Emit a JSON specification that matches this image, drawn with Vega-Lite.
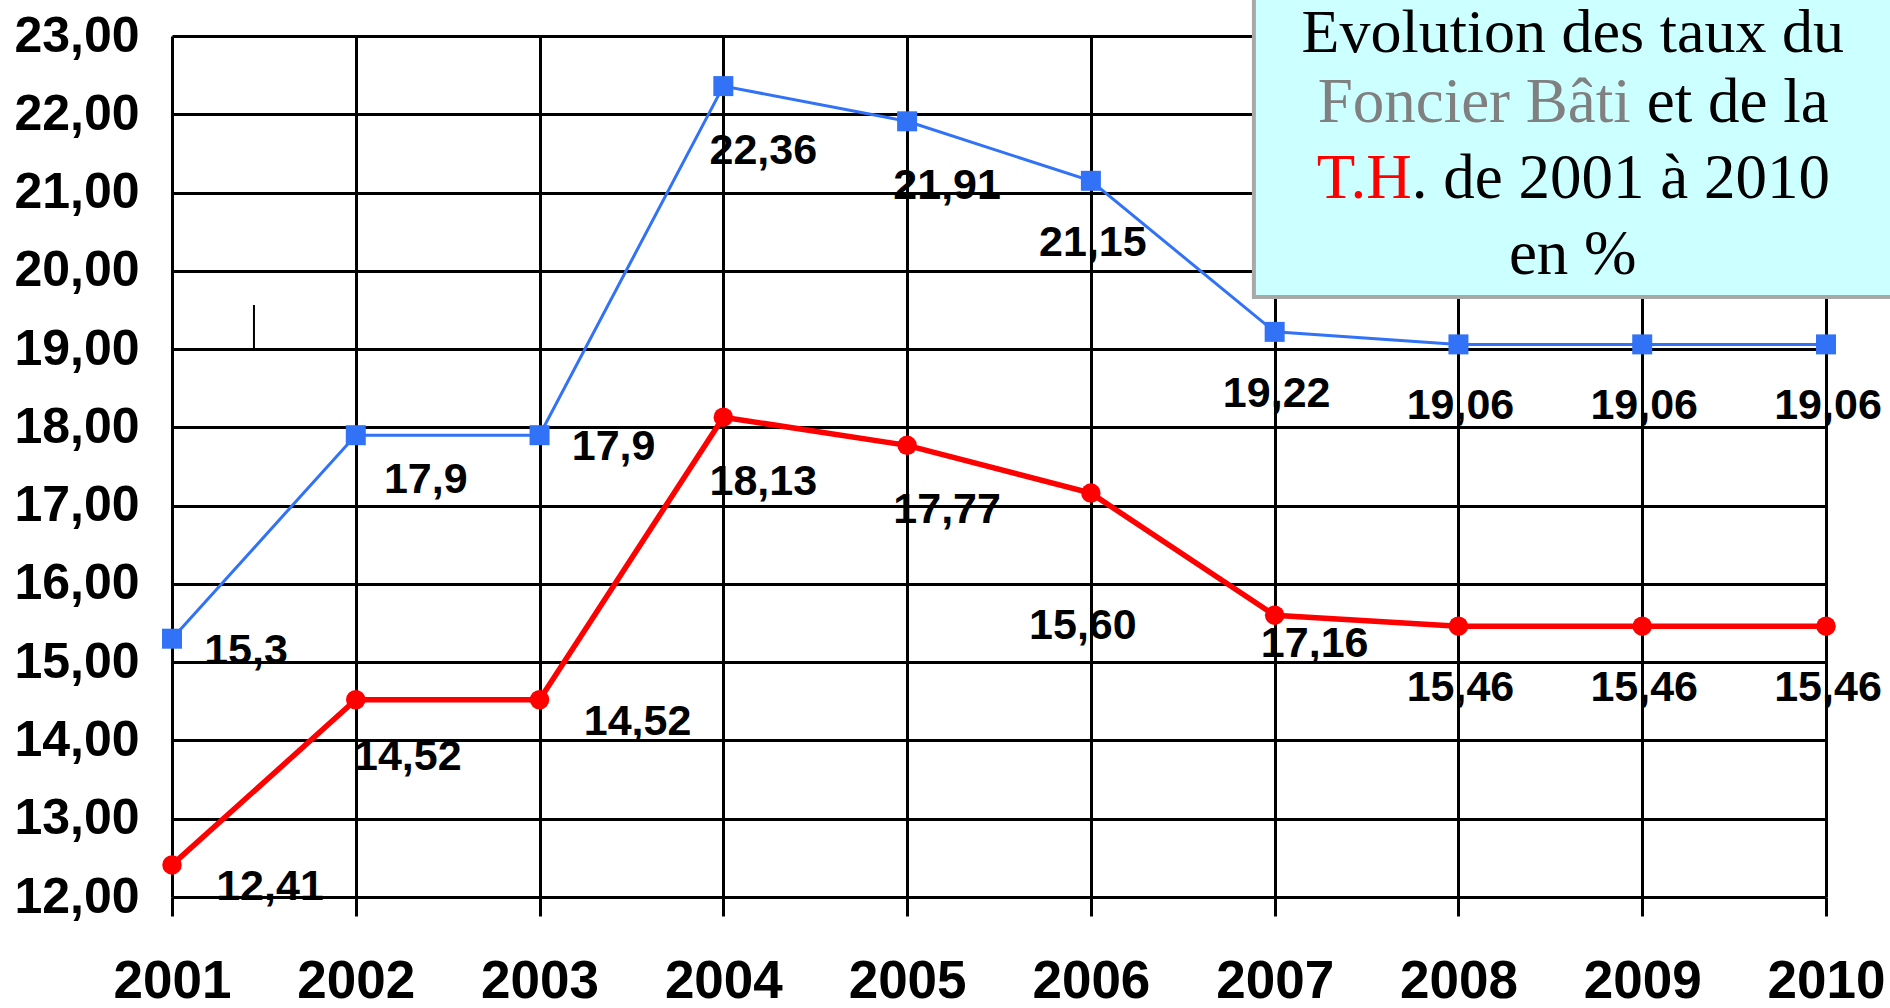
{
  "$schema": "https://vega.github.io/schema/vega-lite/v6.json",
  "width": 1654,
  "height": 861,
  "autosize": "none",
  "padding": {"left": 172, "top": 36, "right": 64, "bottom": 111},
  "background": "white",
  "config": {"view": {"stroke": null}},
  "data": {
    "values": [
      {"year": 2001, "serie": "Foncier Bâti", "taux": 15.3, "label": "15,3"},
      {"year": 2002, "serie": "Foncier Bâti", "taux": 17.9, "label": "17,9"},
      {"year": 2003, "serie": "Foncier Bâti", "taux": 17.9, "label": "17,9"},
      {"year": 2004, "serie": "Foncier Bâti", "taux": 22.36, "label": "22,36"},
      {"year": 2005, "serie": "Foncier Bâti", "taux": 21.91, "label": "21,91"},
      {"year": 2006, "serie": "Foncier Bâti", "taux": 21.15, "label": "21,15"},
      {"year": 2007, "serie": "Foncier Bâti", "taux": 19.22, "label": "19,22"},
      {"year": 2008, "serie": "Foncier Bâti", "taux": 19.06, "label": "19,06"},
      {"year": 2009, "serie": "Foncier Bâti", "taux": 19.06, "label": "19,06"},
      {"year": 2010, "serie": "Foncier Bâti", "taux": 19.06, "label": "19,06"},
      {"year": 2001, "serie": "T.H.", "taux": 12.41, "label": "12,41"},
      {"year": 2002, "serie": "T.H.", "taux": 14.52, "label": "14,52"},
      {"year": 2003, "serie": "T.H.", "taux": 14.52, "label": "14,52"},
      {"year": 2004, "serie": "T.H.", "taux": 18.13, "label": "18,13"},
      {"year": 2005, "serie": "T.H.", "taux": 17.77, "label": "17,77"},
      {"year": 2006, "serie": "T.H.", "taux": 17.16, "label": "15,60"},
      {"year": 2007, "serie": "T.H.", "taux": 15.6, "label": "17,16"},
      {"year": 2008, "serie": "T.H.", "taux": 15.46, "label": "15,46"},
      {"year": 2009, "serie": "T.H.", "taux": 15.46, "label": "15,46"},
      {"year": 2010, "serie": "T.H.", "taux": 15.46, "label": "15,46"}
    ]
  },
  "layer": [
    {
      "transform": [{"filter": "datum.serie === 'Foncier Bâti'"}],
      "mark": {"type": "line", "color": "#3172F6", "strokeWidth": 3},
      "encoding": {
        "x": {"field": "year", "type": "quantitative", "scale": {"domain": [2001, 2010], "nice": false, "zero": false},
          "axis": {"values": [2001, 2002, 2003, 2004, 2005, 2006, 2007, 2008, 2009, 2010], "format": "d", "title": null,
            "grid": true, "gridColor": "black", "gridWidth": 3, "gridOpacity": 1, "domain": false,
            "ticks": true, "tickColor": "black", "tickWidth": 3, "tickSize": 19,
            "labelFont": "Liberation Sans", "labelFontSize": 53, "labelFontWeight": "bold", "labelColor": "black",
            "labelPadding": 39, "labelFlush": false, "labelOverlap": false}},
        "y": {"field": "taux", "type": "quantitative", "scale": {"domain": [12, 23], "nice": false, "zero": false},
          "axis": {"values": [12, 13, 14, 15, 16, 17, 18, 19, 20, 21, 22, 23], "labelExpr": "replace(format(datum.value, '.2f'), '.', ',')", "title": null,
            "grid": true, "gridColor": "black", "gridWidth": 3, "gridOpacity": 1, "domain": false,
            "ticks": false, "labelPadding": 33,
            "labelFont": "Liberation Sans", "labelFontSize": 50, "labelFontWeight": "bold", "labelColor": "black",
            "labelFlush": false, "labelOverlap": false}}
      }
    },
    {
      "transform": [{"filter": "datum.serie === 'T.H.'"}],
      "mark": {"type": "line", "color": "#FF0000", "strokeWidth": 5.5},
      "encoding": {"x": {"field": "year", "type": "quantitative"}, "y": {"field": "taux", "type": "quantitative"}}
    },
    {
      "transform": [{"filter": "datum.serie === 'Foncier Bâti'"}],
      "mark": {"type": "point", "shape": "square", "filled": true, "opacity": 1, "color": "#3172F6", "size": 400},
      "encoding": {"x": {"field": "year", "type": "quantitative"}, "y": {"field": "taux", "type": "quantitative"}}
    },
    {
      "transform": [{"filter": "datum.serie === 'T.H.'"}],
      "mark": {"type": "point", "shape": "circle", "filled": true, "opacity": 1, "color": "#FF0000", "size": 380},
      "encoding": {"x": {"field": "year", "type": "quantitative"}, "y": {"field": "taux", "type": "quantitative"}}
    },
    {
      "transform": [{"filter": "datum.serie === 'Foncier Bâti' && (datum.year === 2001 || datum.year === 2003)"}],
      "mark": {"type": "text", "font": "Liberation Sans", "fontWeight": "bold", "fontSize": 43, "color": "black", "align": "center", "baseline": "middle", "dx": 74, "dy": 12},
      "encoding": {"x": {"field": "year", "type": "quantitative"}, "y": {"field": "taux", "type": "quantitative"}, "text": {"field": "label"}}
    },
    {
      "transform": [{"filter": "datum.serie === 'T.H.' && (datum.year === 2001 || datum.year === 2003)"}],
      "mark": {"type": "text", "font": "Liberation Sans", "fontWeight": "bold", "fontSize": 43, "color": "black", "align": "center", "baseline": "middle", "dx": 98, "dy": 22},
      "encoding": {"x": {"field": "year", "type": "quantitative"}, "y": {"field": "taux", "type": "quantitative"}, "text": {"field": "label"}}
    },
    {
      "transform": [{"filter": "datum.serie === 'Foncier Bâti' && datum.year === 2002"}],
      "mark": {"type": "text", "font": "Liberation Sans", "fontWeight": "bold", "fontSize": 43, "color": "black", "align": "center", "baseline": "middle", "dx": 70, "dy": 45},
      "encoding": {"x": {"field": "year", "type": "quantitative"}, "y": {"field": "taux", "type": "quantitative"}, "text": {"field": "label"}}
    },
    {
      "transform": [{"filter": "datum.serie === 'T.H.' && datum.year === 2002"}],
      "mark": {"type": "text", "font": "Liberation Sans", "fontWeight": "bold", "fontSize": 43, "color": "black", "align": "center", "baseline": "middle", "dx": 52, "dy": 57},
      "encoding": {"x": {"field": "year", "type": "quantitative"}, "y": {"field": "taux", "type": "quantitative"}, "text": {"field": "label"}}
    },
    {
      "transform": [{"filter": "datum.year === 2004 || datum.year === 2005"}],
      "mark": {"type": "text", "font": "Liberation Sans", "fontWeight": "bold", "fontSize": 43, "color": "black", "align": "center", "baseline": "middle", "dx": 40, "dy": 65},
      "encoding": {"x": {"field": "year", "type": "quantitative"}, "y": {"field": "taux", "type": "quantitative"}, "text": {"field": "label"}}
    },
    {
      "transform": [{"filter": "(datum.serie === 'Foncier Bâti' && datum.year >= 2006) || (datum.serie === 'T.H.' && datum.year >= 2008)"}],
      "mark": {"type": "text", "font": "Liberation Sans", "fontWeight": "bold", "fontSize": 43, "color": "black", "align": "center", "baseline": "middle", "dx": 2, "dy": 62},
      "encoding": {"x": {"field": "year", "type": "quantitative"}, "y": {"field": "taux", "type": "quantitative"}, "text": {"field": "label"}}
    },
    {
      "transform": [{"filter": "datum.serie === 'T.H.' && datum.year === 2006"}],
      "mark": {"type": "text", "font": "Liberation Sans", "fontWeight": "bold", "fontSize": 43, "color": "black", "align": "center", "baseline": "middle", "dx": -8, "dy": 133},
      "encoding": {"x": {"field": "year", "type": "quantitative"}, "y": {"field": "taux", "type": "quantitative"}, "text": {"field": "label"}}
    },
    {
      "transform": [{"filter": "datum.serie === 'T.H.' && datum.year === 2007"}],
      "mark": {"type": "text", "font": "Liberation Sans", "fontWeight": "bold", "fontSize": 43, "color": "black", "align": "center", "baseline": "middle", "dx": 40, "dy": 29},
      "encoding": {"x": {"field": "year", "type": "quantitative"}, "y": {"field": "taux", "type": "quantitative"}, "text": {"field": "label"}}
    },
    {
      "transform": [{"filter": "datum.serie === 'T.H.' && datum.year === 2001"}],
      "mark": {"type": "rule", "color": "black", "strokeWidth": 2},
      "encoding": {
        "x": {"datum": 2001.446, "type": "quantitative"},
        "y": {"datum": 19.0, "type": "quantitative"},
        "y2": {"datum": 19.563}
      }
    },
    {
      "transform": [{"filter": "datum.serie === 'T.H.' && datum.year === 2001"}],
      "mark": {"type": "rect", "fill": "#CCFFFF", "stroke": "#A8A8A8", "strokeWidth": 4},
      "encoding": {
        "x": {"datum": 2006.887, "type": "quantitative"},
        "x2": {"datum": 2010.6},
        "y": {"datum": 23.8, "type": "quantitative"},
        "y2": {"datum": 19.665}
      }
    },
    {
      "transform": [{"filter": "datum.serie === 'T.H.' && datum.year === 2001"}],
      "mark": {"type": "text", "text": "Evolution des taux du", "font": "Liberation Serif", "fontSize": 62, "color": "black", "align": "center", "baseline": "alphabetic"},
      "encoding": {"x": {"datum": 2008.622, "type": "quantitative"}, "y": {"datum": 22.79, "type": "quantitative"}}
    },
    {
      "transform": [{"filter": "datum.serie === 'T.H.' && datum.year === 2001"}],
      "mark": {"type": "text", "text": "Foncier Bâti", "font": "Liberation Serif", "fontSize": 63, "color": "#808080", "align": "right", "baseline": "alphabetic"},
      "encoding": {"x": {"datum": 2008.938, "type": "quantitative"}, "y": {"datum": 21.9, "type": "quantitative"}}
    },
    {
      "transform": [{"filter": "datum.serie === 'T.H.' && datum.year === 2001"}],
      "mark": {"type": "text", "text": "et de la", "font": "Liberation Serif", "fontSize": 63, "color": "black", "align": "left", "baseline": "alphabetic", "dx": 16},
      "encoding": {"x": {"datum": 2008.938, "type": "quantitative"}, "y": {"datum": 21.9, "type": "quantitative"}}
    },
    {
      "transform": [{"filter": "datum.serie === 'T.H.' && datum.year === 2001"}],
      "mark": {"type": "text", "text": "T.H", "font": "Liberation Serif", "fontSize": 63, "color": "#FF0000", "align": "right", "baseline": "alphabetic"},
      "encoding": {"x": {"datum": 2007.746, "type": "quantitative"}, "y": {"datum": 20.93, "type": "quantitative"}}
    },
    {
      "transform": [{"filter": "datum.serie === 'T.H.' && datum.year === 2001"}],
      "mark": {"type": "text", "text": ". de 2001 à 2010", "font": "Liberation Serif", "fontSize": 63, "color": "black", "align": "left", "baseline": "alphabetic"},
      "encoding": {"x": {"datum": 2007.746, "type": "quantitative"}, "y": {"datum": 20.93, "type": "quantitative"}}
    },
    {
      "transform": [{"filter": "datum.serie === 'T.H.' && datum.year === 2001"}],
      "mark": {"type": "text", "text": "en %", "font": "Liberation Serif", "fontSize": 63, "color": "black", "align": "center", "baseline": "alphabetic"},
      "encoding": {"x": {"datum": 2008.622, "type": "quantitative"}, "y": {"datum": 19.959, "type": "quantitative"}}
    }
  ]
}
